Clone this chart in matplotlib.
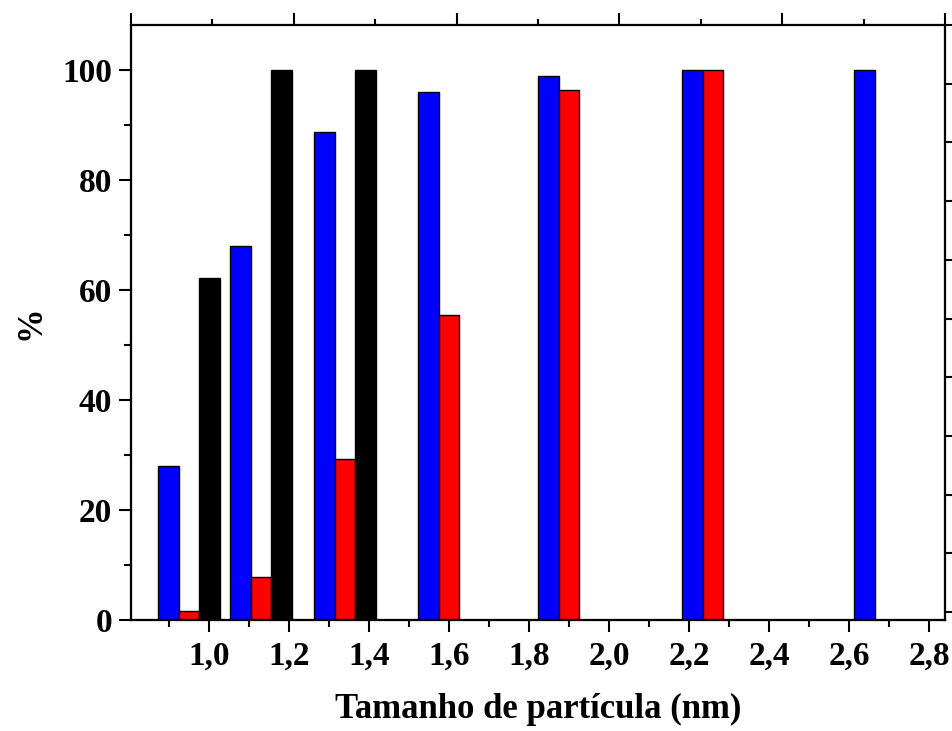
import numpy as np
import matplotlib
matplotlib.use("Agg")
import matplotlib.pyplot as plt
from matplotlib.ticker import FixedLocator, FuncFormatter, NullFormatter

# Particle-size groups (nm) and the percentage for each series
sizes = [0.95, 1.13, 1.34, 1.60, 1.90, 2.26, 2.69]
blue_vals = [28.0, 67.9, 88.7, 95.9, 98.9, 99.9, 100.0]
red_vals = [1.6, 7.8, 29.2, 55.4, 96.3, 100.0, np.nan]
black_vals = [62.1, 100.0, 100.0, np.nan, np.nan, np.nan, np.nan]

x_major = [1.0, 1.2, 1.4, 1.6, 1.8, 2.0, 2.2, 2.4, 2.6, 2.8]
x_minor = [0.9, 1.1, 1.3, 1.5, 1.7, 1.9, 2.1, 2.3, 2.5, 2.7]
y_major = [0, 20, 40, 60, 80, 100]
y_minor = [10, 30, 50, 70, 90]

plt.rcParams['font.family'] = ['Liberation Serif', 'DejaVu Serif']
plt.rcParams['font.weight'] = 'bold'

fig = plt.figure(figsize=(9.52, 7.31), dpi=100)
ax = fig.add_axes([0.1376, 0.1525, 0.855, 0.8133])

w = 0.052
x = np.array(sizes)
ax.bar(x - w, blue_vals, width=w, color='#0000FF', edgecolor='black', linewidth=1.0, zorder=2)
ax.bar(x, red_vals, width=w, color='#FF0000', edgecolor='black', linewidth=1.0, zorder=2)
ax.bar(x + w, black_vals, width=w, color='#000000', edgecolor='black', linewidth=1.0, zorder=2)

ax.set_xlim(0.805, 2.84)
ax.set_ylim(0, 108.1)

ax.xaxis.set_major_locator(FixedLocator(x_major))
ax.xaxis.set_minor_locator(FixedLocator(x_minor))
ax.yaxis.set_major_locator(FixedLocator(y_major))
ax.yaxis.set_minor_locator(FixedLocator(y_minor))
ax.xaxis.set_major_formatter(FuncFormatter(lambda v, p: f"{v:.1f}".replace('.', ',')))
ax.yaxis.set_major_formatter(FuncFormatter(lambda v, p: f"{v:.0f}"))

for s in ax.spines.values():
    s.set_linewidth(1.5)

ax.tick_params(axis='both', which='major', direction='out', length=8.5, width=1.5,
               labelsize=24)
ax.tick_params(axis='both', which='minor', direction='out', length=5, width=1.5)
ax.tick_params(axis='x', which='major', pad=7)
ax.tick_params(axis='y', which='major', pad=5)
for lab in ax.get_xticklabels() + ax.get_yticklabels():
    lab.set_fontweight('bold')

ax.set_xlabel('Tamanho de partícula (nm)', fontsize=25, fontweight='bold', labelpad=15)
ax.set_ylabel('%', fontsize=25, fontweight='bold', labelpad=11)

# Unlabelled secondary scales on top and right
top = ax.twiny()
top.set_xlim(0, 10)
top.xaxis.set_major_locator(FixedLocator([0, 2, 4, 6, 8, 10]))
top.xaxis.set_minor_locator(FixedLocator([1, 3, 5, 7, 9]))
top.xaxis.set_major_formatter(NullFormatter())
top.tick_params(axis='x', which='major', direction='out', length=8.5, width=1.5)
top.tick_params(axis='x', which='minor', direction='out', length=4.5, width=1.5)

right = ax.twinx()
right.set_ylim(-0.128, 10)
right.yaxis.set_major_locator(FixedLocator(list(range(0, 11))))
right.yaxis.set_major_formatter(NullFormatter())
right.tick_params(axis='y', which='major', direction='out', length=6, width=1.5)
for a in (top, right):
    for s in a.spines.values():
        s.set_linewidth(1.5)

fig.savefig('out.png', dpi=100, facecolor='white')
